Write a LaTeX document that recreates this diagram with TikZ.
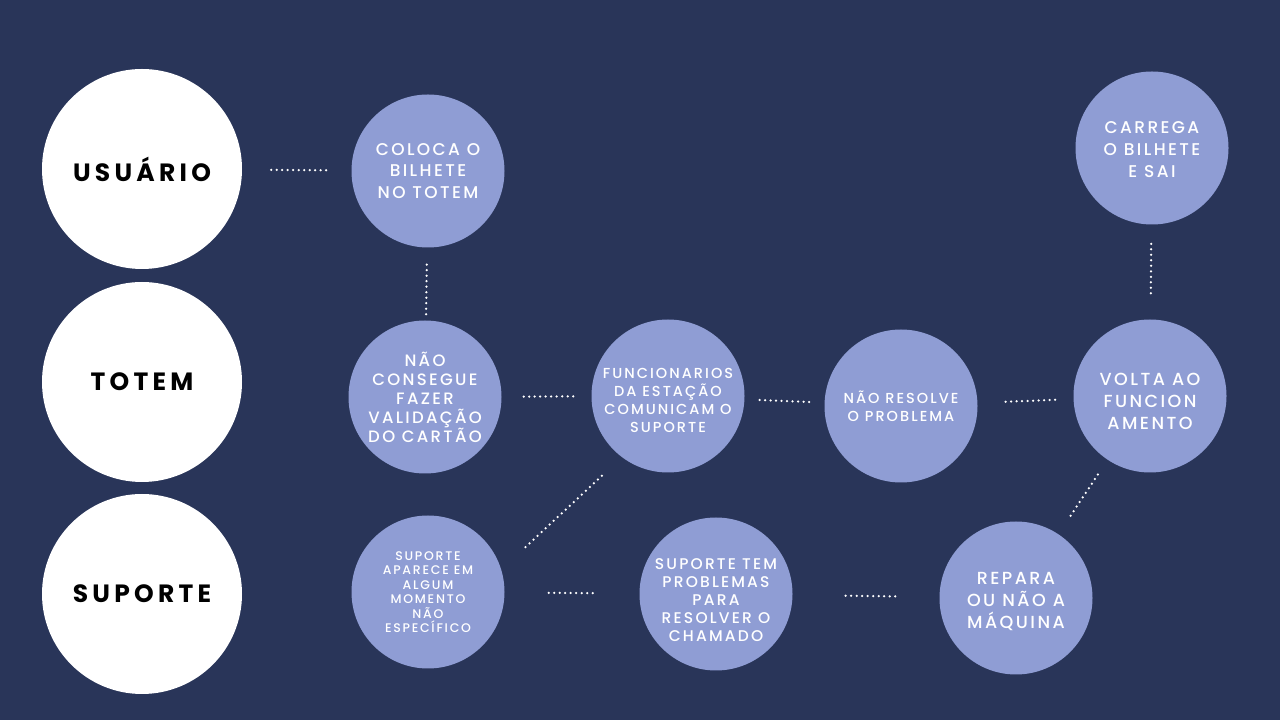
\documentclass[tikz,border=0pt]{standalone}
\usepackage{fontspec}
\newfontfamily\bubfont{Poppins Medium}[LetterSpace=14]
\newfontfamily\headfont{Poppins}[LetterSpace=17]
\definecolor{navy}{RGB}{41,53,89}
\definecolor{lavender}{RGB}{143,157,212}

\begin{document}
\begin{tikzpicture}[x=1pt,y=1pt,
    actor/.style={circle,fill=white,minimum size=200pt,inner sep=0pt},
    bubble/.style={circle,fill=lavender,minimum size=153pt,inner sep=0pt},
    bubtext/.style 2 args={text=white,align=center,font=\bubfont\fontsize{#1}{#2}\selectfont},
    dotline/.style={white,line width=2.5pt,line cap=round,dash pattern=on 0pt off 5.5pt}]
        \fill[navy] (0,0) rectangle (1280,720);

        \node[actor,font=\headfont\bfseries\fontsize{25}{28}\selectfont] (usuario) at (142,551) {USUÁRIO};
        \node[actor,font=\headfont\bfseries\fontsize{25}{28}\selectfont] (totem) at (142,338) {TOTEM};
        \node[actor,font=\headfont\bfseries\fontsize{25}{28}\selectfont] (suporte) at (142,126) {SUPORTE};

        \node[bubble,label={[bubtext={17}{21.5}]center:COLOCA O\\BILHETE\\NO TOTEM}] (coloca) at (428,549) {};
        \node[bubble,label={[bubtext={16.5}{19}]center:NÃO\\CONSEGUE\\FAZER\\VALIDAÇÃO\\DO CARTÃO}] (naocons) at (425,323) {};
        \node[bubble,label={[bubtext={14.5}{18},yshift=-4pt]center:FUNCIONARIOS\\DA ESTAÇÃO\\COMUNICAM O\\SUPORTE}] (func) at (668,324) {};
        \node[bubble,label={[bubtext={14.5}{18}]center:NÃO RESOLVE\\O PROBLEMA}] (naores) at (901,314) {};
        \node[bubble,label={[bubtext={17.5}{22},yshift=-5pt]center:VOLTA AO\\FUNCION\\AMENTO}] (volta) at (1150,324) {};
        \node[bubble,label={[bubtext={17}{22},yshift=-2pt]center:CARREGA\\O BILHETE\\E SAI}] (carrega) at (1152,572) {};
        \node[bubble,label={[bubtext={12.5}{14.5}]center:SUPORTE\\APARECE EM\\ALGUM\\MOMENTO\\NÃO\\ESPECÍFICO}] (supap) at (428,128) {};
        \node[bubble,label={[bubtext={15.5}{18},yshift=-6pt]center:SUPORTE TEM\\PROBLEMAS\\PARA\\RESOLVER O\\CHAMADO}] (suptem) at (716,126) {};
        \node[bubble,label={[bubtext={17.5}{22},yshift=-4pt]center:REPARA\\OU NÃO A\\MÁQUINA}] (repara) at (1016,122) {};

        \draw[dotline,shorten <=29pt,shorten >=20pt] (usuario) -- (coloca);
        \draw[dotline,shorten <=17pt,shorten >=6pt] (coloca) -- (naocons);
        \draw[dotline,shorten <=22pt,shorten >=18pt] (naocons) -- (func);
        \draw[dotline,shorten <=15pt,shorten >=15pt] (func) -- (naores);
        \draw[dotline,shorten <=28pt,shorten >=17pt] (naores) -- (volta);
        \draw[dotline,shorten <=26pt,shorten >=14pt] (volta) -- (carrega);
        \draw[dotline,shorten <=33pt,shorten >=27pt] (supap.17.6) -- (func.233);
        \draw[dotline,shorten <=44pt,shorten >=42pt] (supap) -- (suptem);
        \draw[dotline,shorten <=53pt,shorten >=44pt] (suptem) -- (repara);
        \draw[dotline,shorten <=22pt,shorten >=17pt] (repara) -- (volta);
    \end{tikzpicture}
\end{document}
